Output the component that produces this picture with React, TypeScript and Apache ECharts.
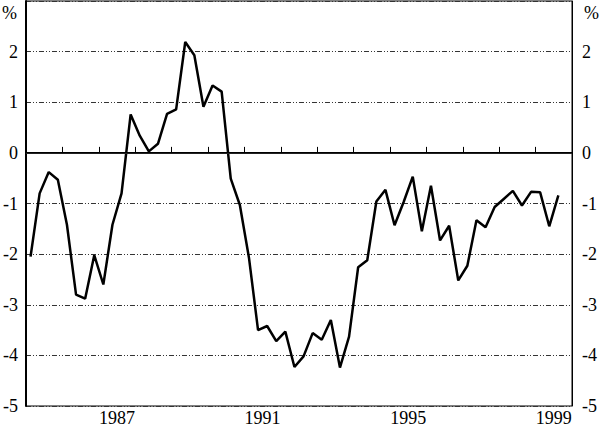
import React, { useEffect, useRef } from "react";
import * as echarts from "echarts";

const startYear = 1985;
const endYear = 2000;
// Quarterly values, 1985 Q1 to 1999 Q3 (%)
const values: number[] = [
  -2.05, -0.8, -0.38, -0.53, -1.42, -2.8, -2.88, -2.02, -2.6, -1.42,
  -0.8, 0.76, 0.34, 0.03, 0.18, 0.77, 0.86, 2.19, 1.93, 0.91,
  1.33, 1.21, -0.51, -1.03, -2.07, -3.5, -3.42, -3.72, -3.53, -4.23,
  -4.02, -3.56, -3.69, -3.3, -4.24, -3.63, -2.26, -2.12, -0.96, -0.73,
  -1.43, -0.97, -0.47, -1.55, -0.65, -1.73, -1.44, -2.52, -2.23, -1.33,
  -1.47, -1.07, -0.91, -0.75, -1.04, -0.77, -0.78, -1.45, -0.84,
];
const yearLabels: string[] = ["1987", "1991", "1995", "1999"];
const yMin = -5;
const yMax = 3;
const unitLabel = "%";

export default function App() {
  const ref = useRef<HTMLDivElement>(null);
  useEffect(() => {
    document.body.style.margin = "0";
    if (!ref.current) return;
    const chart = echarts.init(ref.current, null, { renderer: "svg" });
    const font = "'Liberation Serif', 'Times New Roman', serif";
    const data = values.map((v, i) => [startYear + (i + 0.5) / 4, v]);
    const yLabel = {
      formatter: (v: number) => (v === yMax ? "" : String(v)),
      fontFamily: font,
      fontSize: 18,
      color: "#000",
      margin: 8,
    };
    chart.setOption({
      animation: false,
      grid: {
        left: 24,
        right: 26,
        top: 1,
        bottom: 19,
        show: true,
        borderColor: "#000",
        borderWidth: 1,
      },
      xAxis: [
        {
          type: "value",
          min: startYear,
          max: endYear,
          interval: 1,
          axisLine: { lineStyle: { color: "#000", width: 2 } },
          axisTick: { inside: true, length: 6, lineStyle: { color: "#000", width: 1 } },
          axisLabel: { show: false },
          splitLine: { show: false },
        },
        {
          type: "value",
          min: startYear,
          max: endYear,
          interval: 0.5,
          position: "bottom",
          axisLine: { show: false },
          axisTick: { show: false },
          splitLine: { show: false },
          axisLabel: {
            fontFamily: font,
            fontSize: 18,
            color: "#000",
            margin: 3,
            showMinLabel: false,
            showMaxLabel: false,
            formatter: (v: number) => {
              const s = String(Math.round(v - 0.5));
              return Math.abs(v - Math.floor(v) - 0.5) < 1e-6 && yearLabels.includes(s) ? s : "";
            },
          },
        },
      ],
      yAxis: [
        {
          type: "value",
          position: "left",
          min: yMin,
          max: yMax,
          interval: 1,
          axisLine: { show: true, lineStyle: { color: "#000", width: 2 } },
          axisTick: { show: false },
          axisLabel: yLabel,
          splitLine: {
            show: true,
            lineStyle: { color: "#333", width: 1, type: [5, 2, 1, 2, 1, 2] },
          },
        },
        {
          type: "value",
          position: "right",
          min: yMin,
          max: yMax,
          interval: 1,
          axisLine: { show: true, lineStyle: { color: "#000", width: 1 } },
          axisTick: { show: false },
          axisLabel: { ...yLabel, margin: 10 },
          splitLine: { show: false },
        },
      ],
      graphic: [
        {
          type: "text",
          left: 2,
          top: 4,
          style: { text: unitLabel, fontFamily: font, fontSize: 18, fill: "#000" },
        },
        {
          type: "text",
          left: 584,
          top: 4,
          style: { text: unitLabel, fontFamily: font, fontSize: 18, fill: "#000" },
        },
      ],
      series: [
        {
          type: "line",
          xAxisIndex: 0,
          yAxisIndex: 0,
          data,
          symbol: "none",
          lineStyle: { color: "#000", width: 2.5 },
          markLine: {
            silent: true,
            symbol: "none",
            label: { show: false },
            lineStyle: { color: "#222", width: 1, type: "solid" },
            data: [{ yAxis: 0 }],
          },
        },
      ],
    });
    return () => chart.dispose();
  }, []);
  return <div ref={ref} style={{ width: 600, height: 427 }} />;
}
